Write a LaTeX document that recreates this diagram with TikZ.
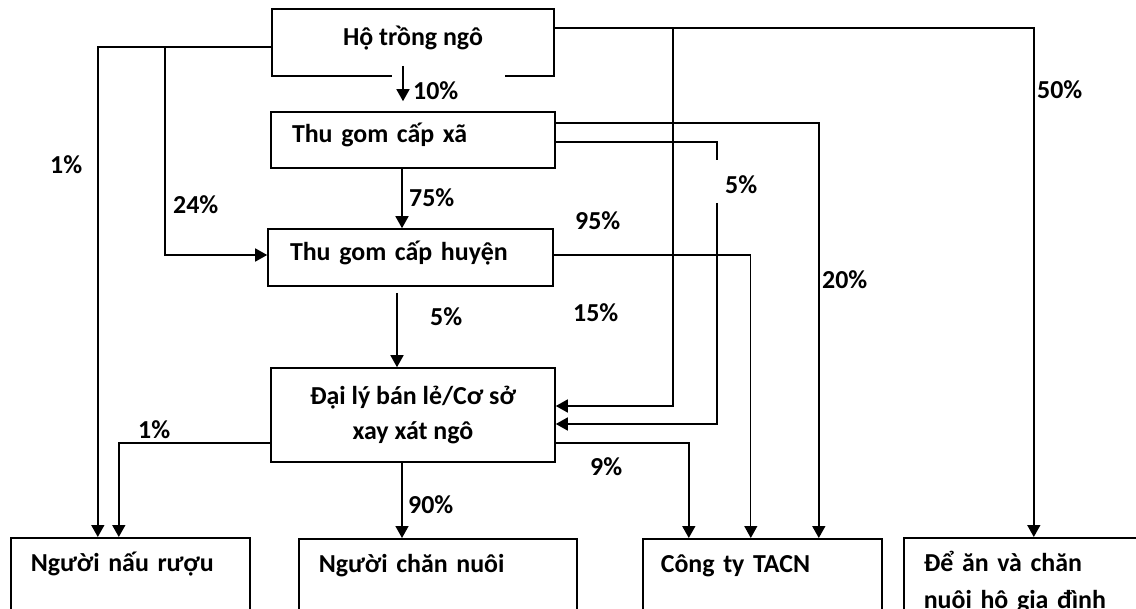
\documentclass[tikz,border=0pt]{standalone}
\usepackage{fontspec}
\setmainfont{Carlito}
\usetikzlibrary{arrows.meta,calc}
\begin{document}
\begin{tikzpicture}[x=1bp,y=-1bp,
  every node/.style={font=\fontsize{26}{37}\selectfont\bfseries},
  box/.style={draw, line width=1.6bp, inner sep=0pt},
  onebox/.style={box, text height=18bp, text depth=12bp},
  bottombox/.style={draw, line width=1.6bp, anchor=north west, align=left, inner xsep=20bp, inner ysep=8bp},
  conn/.style={line width=1.6bp},
  arr/.style={line width=1.6bp, -{Triangle[width=13bp,length=12bp]}},
  pct/.style={anchor=west, inner sep=0pt}]
\useasboundingbox (0,0) rectangle (1136,609);
\clip (0,0) rectangle (1136,609);
\fill[white] (0,0) rectangle (1136,609);

% boxes
\node[onebox, minimum width=282bp, minimum height=67bp] (ho) at (413,42.5) {Hộ trồng ngô};
\draw[white, line width=3bp] (392,76) -- (505,76);
\node[onebox, minimum width=284bp, minimum height=56bp, text width=242bp, align=left] (xa) at (413,140) {Thu gom cấp xã};
\node[onebox, minimum width=285bp, minimum height=57bp, text width=241bp, align=left] (huyen) at (410.5,257.5) {Thu gom cấp huyện};
\node[box, minimum width=284bp, minimum height=94bp, align=center, font=\fontsize{26}{35}\selectfont\bfseries] (daily) at (413,415) {\strut Đại lý bán lẻ/Cơ sở\\\strut xay xát ngô};
\node[bottombox, text width=199bp] (nau) at (10,537) {\strut Người nấu rượu\\\strut};
\node[bottombox, text width=238bp] (chan) at (298,538) {\strut Người chăn nuôi\\\strut};
\node[bottombox, text width=203bp, inner xsep=18bp] (tacn) at (642,538) {\strut Công ty TACN\\\strut};
\node[bottombox, text width=220bp] (dean) at (903,537) {\strut Để ăn và chăn\\\strut nuôi hộ gia đình};

% branch points
\coordinate (b24) at (165,47);
\coordinate (b15) at (673,28);
\coordinate (g5a) at (717,160);
\coordinate (g5b) at (717,203);

% connectors
\draw[arr] ([xshift=-10bp,yshift=11bp]ho.south) -- ([xshift=-10bp,yshift=10bp]xa.north);
\draw[arr] ([yshift=-4.5bp]ho.west) -| ([xshift=-32.5bp]nau.north);
\draw[arr] (b24) |- ([yshift=2.5bp]huyen.west);
\draw[arr] ([yshift=14.5bp]ho.east) -| (dean.north);
\draw[arr] (b15) |- ([yshift=9bp]daily.east);

\draw[arr] ([xshift=-11bp]xa.south) -- ([xshift=-11bp]xa.south |- huyen.north);
\draw[arr] ([yshift=17bp]xa.east) -| ([xshift=56.5bp]tacn.north);
\draw[conn] ([yshift=-2bp]xa.east) -| (g5a);
\draw[arr] (g5b) |- ([yshift=-9bp]daily.east);

\draw[arr, line width=1.2bp] ([yshift=2.5bp]huyen.east) -| ([xshift=-11.5bp]tacn.north);
\draw[arr] ([xshift=-13.5bp,yshift=-6bp]huyen.south) -- ([xshift=-13.5bp]huyen.south |- daily.north);

\draw[arr] ([yshift=-28bp]daily.east) -| ([xshift=-73.5bp]tacn.north);
\draw[arr] ([yshift=-28bp]daily.west) -| ([xshift=-11.5bp]nau.north);
\draw[arr] ([xshift=-11bp]daily.south) -- ([xshift=-11bp]daily.south |- chan.north);

% percentages
\node[pct] (p10) at (413,91) {10\%};
\node[pct] (p1a) at (50,165) {1\%};
\node[pct] (p24) at (173,205) {24\%};
\node[pct] (p75) at (409,198) {75\%};
\node[pct] (p95) at (575,221) {95\%};
\node[pct] (p5a) at (725,185) {5\%};
\node[pct] (p20) at (822,280) {20\%};
\node[pct] (p5b) at (430,317) {5\%};
\node[pct] (p15) at (573,313) {15\%};
\node[pct] (p1b) at (138,430) {1\%};
\node[pct] (p9) at (590,467) {9\%};
\node[pct] (p90) at (408,505) {90\%};
\node[pct] (p50) at (1037,90) {50\%};
\end{tikzpicture}
\end{document}
